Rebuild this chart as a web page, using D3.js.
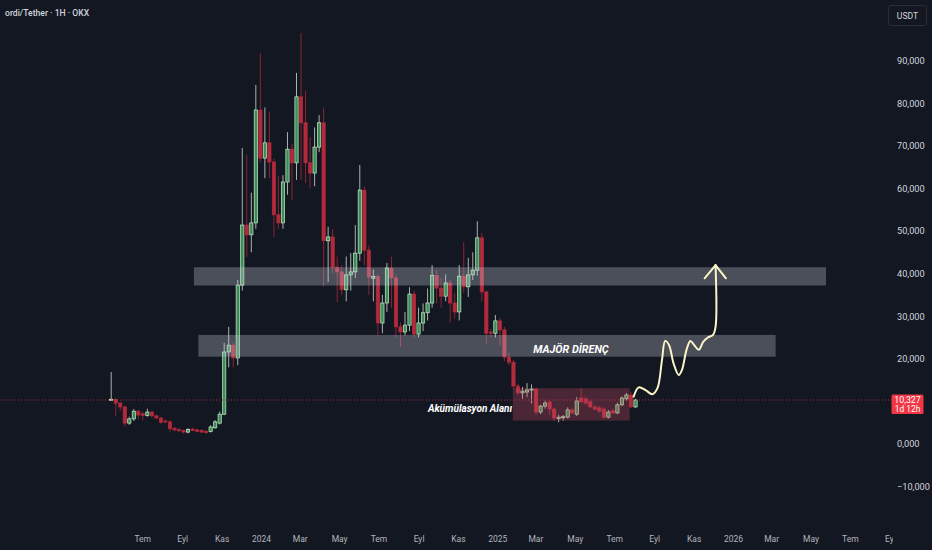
<!DOCTYPE html>
<html>
<head>
<meta charset="utf-8">
<script src="https://cdn.jsdelivr.net/npm/d3@7"></script>
<style>
html, body { margin: 0; padding: 0; background: #131722; overflow: hidden; }
text { font-family: Roboto, "Noto Sans", sans-serif; }
</style>
</head>
<body>
<script>
'use strict'

// weekly candles, first week starts here
const firstWeek = '2023-05-14'

const opens = [10.3, 10.5, 9.6, 8.7, 4.9, 5.9, 7.7, 7.1, 6.7, 7.5,
    6.6, 6.1, 5.4, 5.2, 3.7, 3.4, 3.2, 2.8, 3.5, 3.3,
    3.2, 3.0, 2.9, 3.8, 4.9, 7.0, 21.6, 23.2, 20.2, 37.3,
    51.4, 49.1, 51.9, 78.4, 67.1, 70.7, 66.2, 53.8, 51.9, 61.5,
    69.2, 66.0, 81.5, 75.4, 66.0, 63.6, 69.7, 75.4, 47.7, 48.6,
    41.5, 40.4, 36.2, 39.7, 40.4, 44.8, 59.6, 45.5, 38.9, 39.3,
    28.4, 33.1, 41.3, 39.0, 27.5, 26.3, 27.9, 35.2, 25.8, 28.4,
    30.8, 33.1, 39.6, 36.6, 34.7, 37.8, 33.1, 31.0, 39.4, 36.9,
    39.7, 40.8, 48.4, 35.7, 26.3, 26.0, 28.9, 26.8, 20.4, 19.2,
    13.6, 12.0, 12.2, 12.7, 12.9, 7.5, 8.9, 9.9, 8.2, 6.0,
    6.2, 6.3, 8.0, 7.0, 10.8, 10.6, 9.9, 8.7, 8.5, 8.2,
    6.3, 7.8, 7.3, 9.2, 10.6, 11.5, 8.7]

const highs = [16.9, 10.8, 9.9, 9.0, 6.4, 8.2, 8.0, 7.6, 8.3, 7.8,
    6.9, 6.4, 5.8, 5.6, 4.0, 3.7, 3.4, 3.7, 3.8, 3.6,
    3.5, 3.2, 4.4, 5.6, 7.6, 23.7, 27.5, 23.8, 38.5, 69.5,
    67.8, 59.0, 84.3, 91.8, 79.0, 78.0, 67.0, 63.0, 63.1, 73.2,
    70.5, 87.1, 96.5, 83.0, 72.0, 74.3, 77.2, 79.0, 51.0, 50.5,
    44.0, 42.0, 44.0, 44.8, 51.4, 65.5, 60.5, 46.5, 41.0, 40.0,
    35.0, 42.5, 44.0, 39.8, 28.5, 31.0, 36.8, 36.0, 32.0, 33.0,
    36.5, 42.0, 41.0, 39.0, 39.8, 38.5, 35.5, 42.0, 47.4, 43.7,
    45.0, 52.3, 49.5, 36.0, 27.0, 30.3, 29.5, 27.5, 21.5, 19.8,
    14.2, 13.4, 14.3, 14.0, 13.3, 9.2, 10.2, 10.3, 8.6, 6.9,
    6.8, 8.6, 8.4, 11.0, 13.1, 11.2, 10.3, 9.1, 8.9, 8.6,
    8.0, 8.3, 9.7, 11.2, 12.0, 12.2, 10.6]

const lows = [10.1, 6.5, 7.8, 4.2, 4.5, 5.4, 5.8, 5.6, 6.4, 6.3,
    5.9, 4.8, 4.9, 2.9, 3.0, 2.8, 2.5, 2.5, 3.0, 2.8,
    2.6, 2.4, 2.7, 3.6, 4.6, 6.8, 18.0, 18.0, 18.5, 36.0,
    43.9, 45.0, 50.5, 66.0, 62.4, 62.4, 48.6, 50.5, 50.5, 58.5,
    57.3, 62.0, 62.0, 61.3, 60.0, 60.5, 68.5, 36.9, 38.0, 40.0,
    33.3, 35.0, 33.5, 36.0, 39.0, 43.0, 42.0, 35.0, 33.5, 25.5,
    26.0, 31.0, 32.0, 25.1, 22.8, 25.5, 26.5, 25.0, 25.0, 26.5,
    29.0, 32.0, 33.0, 32.0, 33.5, 28.5, 29.5, 29.0, 35.5, 34.5,
    38.5, 39.5, 33.5, 23.5, 25.0, 25.0, 23.0, 19.5, 18.5, 13.0,
    11.5, 10.6, 11.0, 9.5, 6.8, 7.0, 8.3, 6.8, 5.3, 5.1,
    5.5, 6.0, 7.0, 6.6, 9.6, 9.2, 8.3, 7.9, 7.4, 5.9,
    6.0, 7.0, 7.0, 8.9, 10.2, 8.4, 8.5]

const closes = [10.5, 9.6, 8.7, 4.9, 5.9, 7.7, 6.8, 6.7, 7.5, 6.6,
    6.1, 5.1, 5.2, 3.6, 3.3, 3.1, 2.8, 3.4, 3.2, 3.0,
    2.8, 2.7, 4.0, 5.2, 7.0, 21.6, 23.2, 20.2, 37.3, 51.4,
    49.1, 51.9, 78.4, 67.1, 70.7, 66.2, 53.8, 51.9, 61.5, 69.2,
    66.0, 81.5, 75.4, 66.0, 63.6, 69.7, 75.4, 47.7, 48.6, 41.5,
    40.4, 36.2, 39.7, 40.4, 44.8, 59.6, 45.5, 39.2, 39.3, 28.4,
    33.1, 41.3, 39.0, 27.5, 26.3, 27.9, 35.2, 25.8, 28.4, 30.8,
    33.1, 39.6, 36.6, 34.7, 37.8, 33.1, 31.0, 39.4, 36.9, 39.7,
    40.8, 48.4, 35.7, 26.0, 26.0, 28.9, 26.8, 20.4, 19.2, 13.6,
    12.0, 12.4, 12.7, 12.9, 7.5, 8.9, 9.6, 8.2, 6.1, 6.3,
    6.4, 8.0, 7.3, 10.1, 9.9, 9.6, 8.7, 8.2, 7.7, 6.3,
    7.5, 7.3, 9.2, 10.8, 11.5, 8.7, 10.327]

const lastPrice = 10.327
const lastCountdown = '1d 12h'

// price axis
const priceTicks = [-10, 0, 20, 30, 40, 50, 60, 70, 80, 90]

// time axis
const timeTicks = ['2023-07-01', '2023-09-01', '2023-11-01', '2024-01-01', '2024-03-01', '2024-05-01',
    '2024-07-01', '2024-09-01', '2024-11-01', '2025-01-01', '2025-03-01', '2025-05-01',
    '2025-07-01', '2025-09-01', '2025-11-01', '2026-01-01', '2026-03-01', '2026-05-01',
    '2026-07-01', '2026-09-01']
const timeLabels = ['Tem', 'Eyl', 'Kas', '2024', 'Mar', 'May', 'Tem', 'Eyl', 'Kas', '2025', 'Mar', 'May',
    'Tem', 'Eyl', 'Kas', '2026', 'Mar', 'May', 'Tem', 'Eyl']

// drawn zones (from, to, top price, bottom price)
const greyZones = [
    { from: '2023-09-19', to: '2026-05-25', top: 41.5, bottom: 37.2 },
    { from: '2023-09-26', to: '2026-03-08', top: 25.6, bottom: 20.5 }
]
const accumulationZone = { from: '2025-01-25', to: '2025-07-25', top: 13.1, bottom: 5.5 }

// projected path drawn on the chart (date, price)
const projDates = ['2025-07-31', '2025-08-08', '2025-08-18', '2025-08-29', '2025-09-06', '2025-09-13',
    '2025-09-18', '2025-09-24', '2025-10-01', '2025-10-09', '2025-10-14', '2025-10-21',
    '2025-10-27', '2025-11-02', '2025-11-09', '2025-11-16', '2025-11-23', '2025-12-01',
    '2025-12-05', '2025-12-05']
const projPrices = [11.1, 13.3, 12.7, 11.7, 13.1, 19.7, 24.2, 23.2, 18.9, 16.2, 17.4, 22.1,
    24.2, 23.2, 22.1, 24.0, 25.0, 25.6, 27.5, 42.0]
const arrowHeadDates = ['2025-11-18', '2025-12-05', '2025-12-21']
const arrowHeadPrices = [38.9, 42.0, 38.9]

const labels = [
    { text: 'MAJÖR DİRENÇ', date: '2025-04-25', price: 21.4, anchor: 'middle', size: 10.8 },
    { text: 'Akümülasyon Alanı', date: '2025-01-24', price: 7.4, anchor: 'end', size: 10 }
]

//////////////////////////////////////////////////////////////////////

const width = 932
const height = 550
const plotRight = 886

const parse = d3.utcParse('%Y-%m-%d')
const start = parse(firstWeek)

const candles = opens.map((o, i) => ({
    date: d3.utcDay.offset(start, 7 * i),
    open: o,
    high: highs[i],
    low: lows[i],
    close: closes[i]
}))

const x = d3.scaleUtc()
    .domain([parse('2024-01-01'), parse('2026-01-01')])
    .range([261, 733])

const y = d3.scaleLinear()
    .domain([0, 90])
    .range([444, 60.6])

// Turkish style: comma as decimal separator
const trFormat = d3.formatLocale({ decimal: ',', thousands: '.', grouping: [3], currency: ['', ''] }).format('.3f')

const svg = d3.select('body')
    .append('svg')
    .attr('width', width)
    .attr('height', height)
    .style('display', 'block')

svg.append('rect')
    .attr('width', width)
    .attr('height', height)
    .attr('fill', '#131722')

svg.append('clipPath')
    .attr('id', 'plot-clip')
    .append('rect')
    .attr('width', plotRight + 7)
    .attr('height', height)

// title
svg.append('text')
    .attr('x', 5)
    .attr('y', 16)
    .attr('fill', '#d1d4dc')
    .attr('font-size', 8.6)
    .attr('font-weight', 500)
    .text('ordi/Tether · 1H · OKX')

// candles
const bodyW = (x(d3.utcDay.offset(start, 7)) - x(start)) * 0.72
const isUp = d => d.close >= d.open

const candleG = svg.append('g')

candleG.selectAll('line')
    .data(candles)
    .enter()
    .append('line')
    .attr('x1', d => x(d.date))
    .attr('x2', d => x(d.date))
    .attr('y1', d => y(d.high))
    .attr('y2', d => y(d.low))
    .attr('stroke', d => isUp(d) ? '#a7b3ab' : '#8a2535')
    .attr('stroke-width', 1)

candleG.selectAll('rect')
    .data(candles)
    .enter()
    .append('rect')
    .attr('x', d => x(d.date) - bodyW / 2)
    .attr('width', bodyW)
    .attr('y', d => y(Math.max(d.open, d.close)))
    .attr('height', d => Math.max(1, Math.abs(y(d.open) - y(d.close))))
    .attr('fill', d => isUp(d) ? '#3e8d58' : '#b42a3d')
    .attr('stroke', d => isUp(d) ? '#c4eecb' : '#b42a3d')
    .attr('stroke-width', 0.7)

// grey resistance zones
svg.append('g')
    .selectAll('rect')
    .data(greyZones)
    .enter()
    .append('rect')
    .attr('x', d => x(parse(d.from)))
    .attr('width', d => x(parse(d.to)) - x(parse(d.from)))
    .attr('y', d => y(d.top))
    .attr('height', d => y(d.bottom) - y(d.top))
    .attr('fill', 'rgba(205, 210, 222, 0.3)')

// accumulation box
svg.append('rect')
    .attr('x', x(parse(accumulationZone.from)))
    .attr('width', x(parse(accumulationZone.to)) - x(parse(accumulationZone.from)))
    .attr('y', y(accumulationZone.top))
    .attr('height', y(accumulationZone.bottom) - y(accumulationZone.top))
    .attr('fill', 'rgba(205, 75, 100, 0.3)')

// last price dotted line
svg.append('line')
    .attr('x1', 0)
    .attr('x2', 892)
    .attr('y1', y(lastPrice))
    .attr('y2', y(lastPrice))
    .attr('stroke', '#c8354a')
    .attr('stroke-width', 1)
    .attr('stroke-dasharray', '1,2')
    .attr('opacity', 0.8)

// projected path + arrow
const projLine = d3.line()
    .x(d => x(parse(d[0])))
    .y(d => y(d[1]))

svg.append('path')
    .attr('d', projLine.curve(d3.curveCatmullRom.alpha(0.5))(projDates.map((d, i) => [d, projPrices[i]])))
    .attr('fill', 'none')
    .attr('stroke', '#fbf6c8')
    .attr('stroke-width', 2)
    .attr('stroke-linecap', 'round')

svg.append('path')
    .attr('d', projLine.curve(d3.curveLinear)(arrowHeadDates.map((d, i) => [d, arrowHeadPrices[i]])))
    .attr('fill', 'none')
    .attr('stroke', '#fbf6c8')
    .attr('stroke-width', 2)
    .attr('stroke-linecap', 'round')
    .attr('stroke-linejoin', 'round')

// annotation texts
svg.append('g')
    .selectAll('text')
    .data(labels)
    .enter()
    .append('text')
    .attr('x', d => x(parse(d.date)))
    .attr('y', d => y(d.price))
    .attr('text-anchor', d => d.anchor)
    .attr('fill', '#ffffff')
    .attr('font-size', d => d.size)
    .attr('font-weight', 700)
    .attr('font-style', 'italic')
    .text(d => d.text)

// time axis (labels clipped at the price scale)
const xAxis = d3.axisBottom(x)
    .tickValues(timeTicks.map(parse))
    .tickFormat((d, i) => timeLabels[i])
    .tickSize(0)
    .tickPadding(0)

const xAxisG = svg.append('g')
    .attr('clip-path', 'url(#plot-clip)')
    .append('g')
    .attr('transform', 'translate(0,542)')
    .call(xAxis)
xAxisG.select('.domain').remove()
xAxisG.selectAll('text')
    .attr('fill', '#b2b5be')
    .attr('font-size', 8.5)
    .attr('font-family', 'Roboto, "Noto Sans", sans-serif')
    .attr('dy', 0)

// price axis
const yAxis = d3.axisRight(y)
    .tickValues(priceTicks)
    .tickFormat(d => trFormat(d).replace('-', '−'))
    .tickSize(0)
    .tickPadding(0)

const yAxisG = svg.append('g')
    .attr('transform', 'translate(897,0)')
    .call(yAxis)
yAxisG.select('.domain').remove()
yAxisG.selectAll('text')
    .attr('fill', '#d1d4dc')
    .attr('font-size', 9.2)
    .attr('font-family', 'Roboto, "Noto Sans", sans-serif')

// USDT badge
svg.append('rect')
    .attr('x', 888.5)
    .attr('y', 5.5)
    .attr('width', 38)
    .attr('height', 20)
    .attr('rx', 2)
    .attr('fill', '#131722')
    .attr('stroke', '#2a2e39')
svg.append('text')
    .attr('x', 907.5)
    .attr('y', 18.5)
    .attr('text-anchor', 'middle')
    .attr('fill', '#d1d4dc')
    .attr('font-size', 8.6)
    .text('USDT')

// last price badge
const py = y(lastPrice)
svg.append('rect')
    .attr('x', 891.5)
    .attr('y', py - 5.5)
    .attr('width', 32)
    .attr('height', 19.5)
    .attr('rx', 1.5)
    .attr('fill', '#f23645')
svg.append('text')
    .attr('x', 907.5)
    .attr('y', py + 2.8)
    .attr('text-anchor', 'middle')
    .attr('fill', '#ffffff')
    .attr('font-size', 8.8)
    .text(trFormat(lastPrice))
svg.append('text')
    .attr('x', 907.5)
    .attr('y', py + 11.8)
    .attr('text-anchor', 'middle')
    .attr('fill', '#ffffff')
    .attr('font-size', 8.4)
    .text(lastCountdown)
</script>
</body>
</html>
